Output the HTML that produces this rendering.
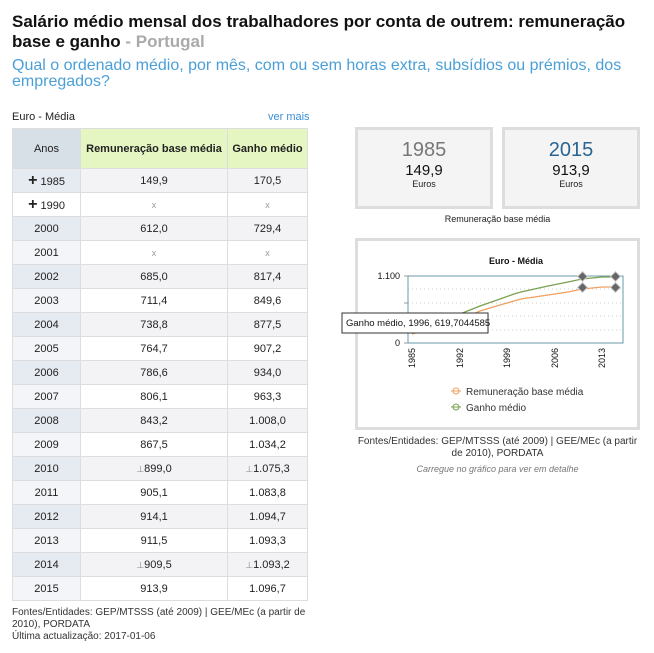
<!DOCTYPE html>
<html><head><meta charset="utf-8"><style>
body{margin:0;width:654px;height:653px;background:#fff;font-family:"Liberation Sans",Arial,sans-serif;position:relative;overflow:hidden}
.a{position:absolute}
table{border-collapse:collapse;position:absolute;left:12px;top:128px;width:296px;font-size:11px;color:#222}
td{height:23px;border:1px solid #ddd;text-align:center;padding:0}
th{height:39px;font-size:11px;font-weight:bold;border:1px solid #ddd;padding:0}
tr.g td{background:#f3f3f6}
tr.g td.y{background:#e6ebf1}
td.y{background:#f3f5f8;width:67px}
.x{color:#999;font-size:9px}
.s{color:#888;font-size:9px}
</style></head><body>
<div class="a" style="left:12px;top:12px;font-size:17px;font-weight:bold;line-height:20px;color:#111;width:640px">Salário médio mensal dos trabalhadores por conta de outrem: remuneração base e ganho <span style="color:#aaa">- Portugal</span></div>
<div class="a" style="left:12px;top:58px;font-size:16px;line-height:16px;color:#4a9fd8;width:640px">Qual o ordenado médio, por mês, com ou sem horas extra, subsídios ou prémios, dos empregados?</div>
<div class="a" style="left:12px;top:111px;font-size:11px;color:#222">Euro - Média</div>
<div class="a" style="left:268px;top:111px;font-size:11px;color:#3a8fd6">ver mais</div>
<table>
<tr><th style="background:#d7dfe7;font-weight:normal;width:67px">Anos</th><th style="background:#e5f6c2">Remuneração base média</th><th style="background:#e5f6c2;width:79px">Ganho médio</th></tr>
<tr class="g"><td class="y"><b style="font-size:16px">+</b> 1985</td><td>149,9</td><td>170,5</td></tr>
<tr><td class="y" style="background:#fff"><b style="font-size:16px">+</b> 1990</td><td class="x">x</td><td class="x">x</td></tr>
<tr class="g"><td class="y">2000</td><td>612,0</td><td>729,4</td></tr>
<tr><td class="y">2001</td><td class="x">x</td><td class="x">x</td></tr>
<tr class="g"><td class="y">2002</td><td>685,0</td><td>817,4</td></tr>
<tr><td class="y">2003</td><td>711,4</td><td>849,6</td></tr>
<tr class="g"><td class="y">2004</td><td>738,8</td><td>877,5</td></tr>
<tr><td class="y">2005</td><td>764,7</td><td>907,2</td></tr>
<tr class="g"><td class="y">2006</td><td>786,6</td><td>934,0</td></tr>
<tr><td class="y">2007</td><td>806,1</td><td>963,3</td></tr>
<tr class="g"><td class="y">2008</td><td>843,2</td><td>1.008,0</td></tr>
<tr><td class="y">2009</td><td>867,5</td><td>1.034,2</td></tr>
<tr class="g"><td class="y">2010</td><td><span class="s">⊥</span>899,0</td><td><span class="s">⊥</span>1.075,3</td></tr>
<tr><td class="y">2011</td><td>905,1</td><td>1.083,8</td></tr>
<tr class="g"><td class="y">2012</td><td>914,1</td><td>1.094,7</td></tr>
<tr><td class="y">2013</td><td>911,5</td><td>1.093,3</td></tr>
<tr class="g"><td class="y">2014</td><td><span class="s">⊥</span>909,5</td><td><span class="s">⊥</span>1.093,2</td></tr>
<tr><td class="y">2015</td><td>913,9</td><td>1.096,7</td></tr>
</table>
<div class="a" style="left:12px;top:607px;font-size:10px;line-height:12px;color:#333;width:320px">Fontes/Entidades: GEP/MTSSS (até 2009) | GEE/MEc (a partir de 2010), PORDATA<br>Última actualização: 2017-01-06</div>

<div class="a" style="left:355px;top:127px;width:132px;height:76px;border:3px solid #ddd;background:#f4f4f4;text-align:center">
<div style="font-size:20px;color:#777;margin-top:9px">1985</div><div style="font-size:15px;color:#111">149,9</div><div style="font-size:9px;color:#222">Euros</div></div>
<div class="a" style="left:502px;top:127px;width:132px;height:76px;border:3px solid #ddd;background:#f4f4f4;text-align:center">
<div style="font-size:20px;color:#2a6492;margin-top:9px">2015</div><div style="font-size:15px;color:#111">913,9</div><div style="font-size:9px;color:#222">Euros</div></div>
<div class="a" style="left:355px;top:214px;width:285px;text-align:center;font-size:9px;color:#222">Remuneração base média</div>

<div class="a" style="left:355px;top:238px;width:279px;height:186px;border:3px solid #ddd;background:#fff"></div>
<svg class="a" style="left:0;top:0" width="654" height="653">
<text x="516" y="264" font-size="9" font-weight="bold" text-anchor="middle" fill="#111">Euro - Média</text>
<g stroke="#ccc" stroke-dasharray="1,3"><line x1="408" y1="289" x2="623" y2="289"/><line x1="408" y1="303" x2="623" y2="303"/><line x1="408" y1="316" x2="623" y2="316"/><line x1="408" y1="330" x2="623" y2="330"/></g>
<rect x="408" y="276" width="215" height="67" fill="none" stroke="#6a9aa8"/>
<g stroke="#999"><line x1="404" y1="276" x2="408" y2="276"/><line x1="404" y1="303" x2="408" y2="303"/><line x1="404" y1="343" x2="408" y2="343"/></g>
<text x="400" y="279" font-size="9" text-anchor="end" fill="#111">1.100</text>
<text x="400" y="346" font-size="9" text-anchor="end" fill="#111">0</text>
<polyline fill="none" stroke="#f0a060" stroke-width="1.3" points="412,334 426,330 446,325 460,320 480,311 500,305 514,301 521,299 548,295 568,292 582,289 602,287 616,287"/>
<polyline fill="none" stroke="#7aa050" stroke-width="1.3" points="412,333 426,327 446,321 460,314 480,306 500,299 514,294 521,292 548,286 568,282 582,279 602,277 616,277"/>
<g fill="#666" stroke="#ccc"><rect x="579" y="273" width="7" height="7" transform="rotate(45 582.5 276.5)"/><rect x="612" y="273" width="7" height="7" transform="rotate(45 615.5 276.5)"/><rect x="579" y="284" width="7" height="7" transform="rotate(45 582.5 287.5)"/><rect x="612" y="284" width="7" height="7" transform="rotate(45 615.5 287.5)"/></g>
<g font-size="9" fill="#111">
<text transform="translate(415,348) rotate(-90)" text-anchor="end">1985</text>
<text transform="translate(463,348) rotate(-90)" text-anchor="end">1992</text>
<text transform="translate(510,348) rotate(-90)" text-anchor="end">1999</text>
<text transform="translate(558,348) rotate(-90)" text-anchor="end">2006</text>
<text transform="translate(605,348) rotate(-90)" text-anchor="end">2013</text>
</g>
<rect x="342" y="313" width="146" height="20" fill="#fff" stroke="#333"/>
<text x="346" y="326" font-size="9.5" fill="#111">Ganho médio, 1996, 619,7044585</text>
<circle cx="456" cy="391" r="3" fill="#fff" stroke="#f0a060"/><line x1="451" y1="391" x2="461" y2="391" stroke="#f0a060"/>
<text x="466" y="395" font-size="10" fill="#333">Remuneração base média</text>
<circle cx="456" cy="407" r="3" fill="#fff" stroke="#7aa050"/><line x1="451" y1="407" x2="461" y2="407" stroke="#7aa050"/>
<text x="466" y="411" font-size="10" fill="#333">Ganho médio</text>
</svg>
<div class="a" style="left:355px;top:436px;width:285px;text-align:center;font-size:10px;line-height:12px;color:#333">Fontes/Entidades: GEP/MTSSS (até 2009) | GEE/MEc (a partir de 2010), PORDATA</div>
<div class="a" style="left:355px;top:464px;width:285px;text-align:center;font-size:9px;font-style:italic;color:#777">Carregue no gráfico para ver em detalhe</div>
</body></html>
